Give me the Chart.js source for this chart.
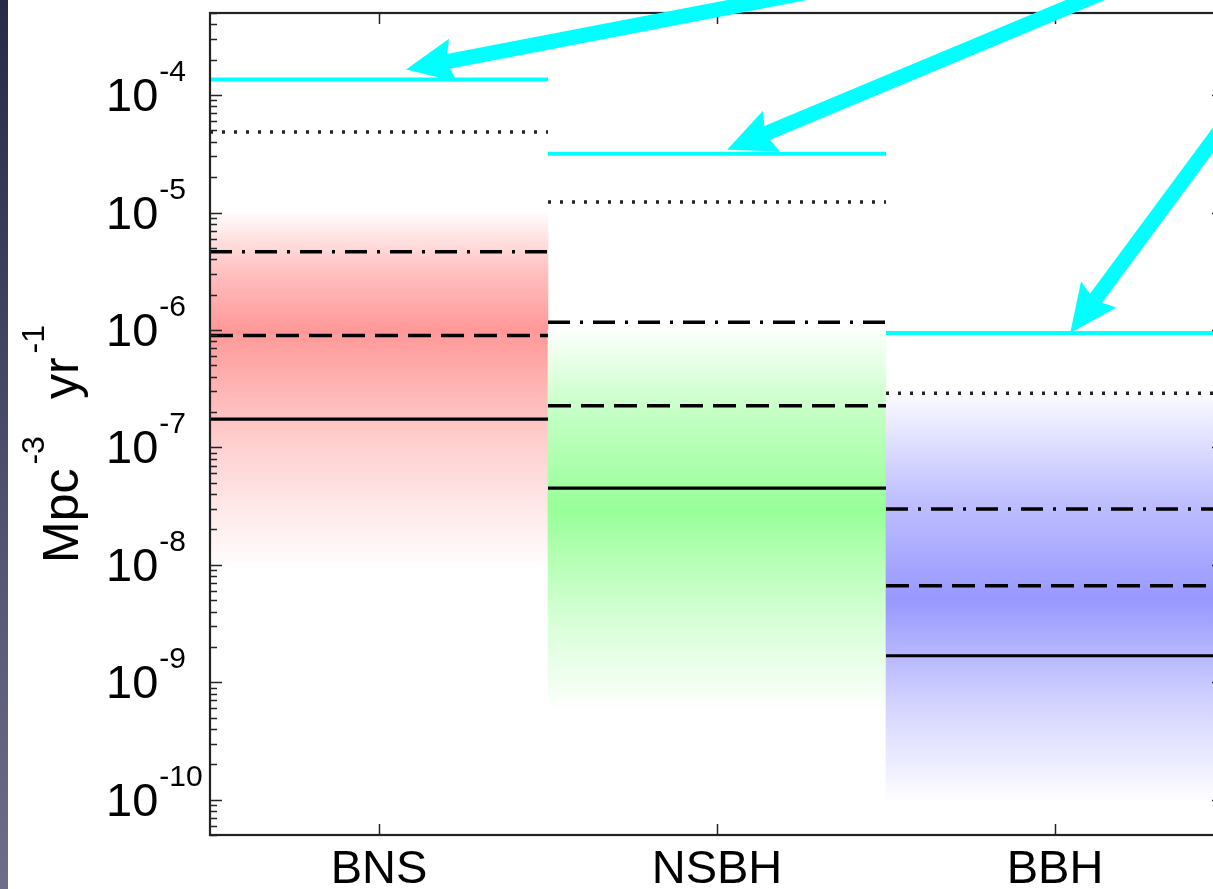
<!DOCTYPE html>
<html>
<head>
<meta charset="utf-8">
<script src="https://cdn.jsdelivr.net/npm/chart.js@4.4.0/dist/chart.umd.min.js"></script>
<style>
  html, body { margin: 0; padding: 0; background: #fff; overflow: hidden; }
  canvas { display: block; }
</style>
</head>
<body>
<canvas id="rates" width="1230" height="889"></canvas>
<script>
// source classes along the x axis
const categories = ['BNS', 'NSBH', 'BBH'];

// shaded rate bands, Mpc^-3 yr^-1 (low edge / strongest colour / high edge)
const bandLow = [1e-8, 6e-10, 1e-10];
const bandPeak = [1e-6, 3e-8, 5e-9];
const bandHigh = [1e-5, 1e-6, 3e-7];

// horizontal levels drawn across each class
const cyanRates = [1.36e-4, 3.17e-5, 9.4e-7];
const dottedRates = [4.85e-5, 1.23e-5, 2.89e-7];
const dashDotRates = [4.64e-6, 1.16e-6, 2.99e-8];
const dashedRates = [8.97e-7, 2.26e-7, 6.64e-9];
const solidRates = [1.74e-7, 4.5e-8, 1.68e-9];

// labelled decades on the y axis
const decadeExps = [-10, -9, -8, -7, -6, -5, -4];

const FONT = '"Liberation Sans", Arial, Helvetica, sans-serif';
const bandColors = [[255, 152, 152], [152, 255, 152], [152, 152, 255]];

// one flat segment per class, with gaps in between
function stepLine(values) {
  const pts = [];
  values.forEach((v, i) => {
    pts.push({x: i + 0.5, y: v}, {x: i + 1.5, y: v});
    if (i < values.length - 1) pts.push({x: i + 1.5, y: null});
  });
  return pts;
}

function levelSet(values, color, width, dash, order) {
  return {
    type: 'line',
    data: stepLine(values),
    borderColor: color,
    borderWidth: width,
    borderDash: dash,
    borderCapStyle: 'butt',
    pointRadius: 0,
    spanGaps: false,
    order: order
  };
}

function bandFill(c) {
  const chart = c.chart;
  if (!chart.chartArea || c.dataIndex === undefined) return 'rgba(0,0,0,0)';
  const i = c.dataIndex;
  const ys = chart.scales.y;
  const top = ys.getPixelForValue(bandHigh[i]);
  const bot = ys.getPixelForValue(bandLow[i]);
  const peak = ys.getPixelForValue(bandPeak[i]);
  const [r, g, b] = bandColors[i];
  const mix = (t) => 'rgb(' + Math.round(255 - (255 - r) * t) + ',' + Math.round(255 - (255 - g) * t) + ',' + Math.round(255 - (255 - b) * t) + ')';
  const grad = chart.ctx.createLinearGradient(0, top, 0, bot);
  const p = (peak - top) / (bot - top);
  grad.addColorStop(0, mix(0.03));
  grad.addColorStop(p * 0.5, mix(0.6));
  grad.addColorStop(p, mix(1));
  grad.addColorStop(p + (1 - p) * 0.5, mix(0.45));
  grad.addColorStop(1, mix(0.02));
  return grad;
}

// dark strip on the left edge of the slide
const slideEdge = {
  id: 'slideEdge',
  beforeDraw(chart) {
    const ctx = chart.ctx;
    const g = ctx.createLinearGradient(0, 0, 0, chart.height);
    g.addColorStop(0, '#262b48');
    g.addColorStop(1, '#6e6e8a');
    ctx.save();
    ctx.fillStyle = g;
    ctx.fillRect(0, 0, 8, chart.height);
    ctx.restore();
  }
};

// box, inward ticks, tick labels and axis title
const frame = {
  id: 'frame',
  afterDatasetsDraw(chart) {
    const {ctx, chartArea: a, scales: {x, y}} = chart;
    ctx.save();
    ctx.strokeStyle = '#222';
    ctx.lineWidth = 1.5;
    const seg = (x1, y1, x2, y2) => { ctx.beginPath(); ctx.moveTo(x1, y1); ctx.lineTo(x2, y2); ctx.stroke(); };

    for (let e = -11; e <= -3; e++) {
      for (let m = 1; m <= 9; m++) {
        const v = m * Math.pow(10, e);
        if (v < y.min * 0.999 || v > y.max * 1.001) continue;
        const py = Math.round(y.getPixelForValue(v)) + 0.5;
        const len = m === 1 ? 12 : 7;
        seg(a.left, py, a.left + len, py);
        seg(a.right, py, a.right - len, py);
      }
    }
    categories.forEach((c, i) => {
      const px = Math.round(x.getPixelForValue(i + 1)) + 0.5;
      seg(px, a.bottom, px, a.bottom - 11);
      seg(px, a.top, px, a.top + 11);
    });
    ctx.lineWidth = 2.2;
    ctx.strokeRect(a.left, a.top, a.right - a.left, a.bottom - a.top);

    ctx.fillStyle = '#000';
    ctx.textBaseline = 'alphabetic';

    // y tick labels: 10 with raised exponent
    decadeExps.forEach(e => {
      const py = y.getPixelForValue(Math.pow(10, e));
      ctx.font = '47px ' + FONT;
      ctx.textAlign = 'left';
      const bx = a.left - 104;
      ctx.fillText('10', bx, py + 16);
      const w = ctx.measureText('10').width;
      ctx.font = '30px ' + FONT;
      ctx.fillText(String(e), bx + w + 1, py - 14);
    });

    // x category labels
    ctx.font = '47px ' + FONT;
    ctx.textAlign = 'center';
    categories.forEach((c, i) => {
      ctx.fillText(c, x.getPixelForValue(i + 1), a.bottom + 48);
    });

    // y axis title, rotated
    ctx.translate(78, 563);
    ctx.rotate(-Math.PI / 2);
    ctx.textAlign = 'left';
    let pos = 0;
    const part = (txt, size, rise, gapAfter) => {
      ctx.font = size + 'px ' + FONT;
      ctx.fillText(txt, pos, -rise);
      pos += ctx.measureText(txt).width + gapAfter;
    };
    part('Mpc', 50, 0, 4);
    part('-3', 32, 34, 37);
    part('yr', 50, 0, 4);
    part('-1', 32, 34, 0);
    ctx.restore();
  }
};

// cyan call-out arrows pointing at the cyan levels
const arrowSpecs = [
  {cat: 0, frac: 0.08, lift: 10, dir: [354, -68]},
  {cat: 1, frac: 0.03, lift: 4, dir: [359, -150]},
  {cat: 2, frac: 0.045, lift: 0, dir: [142, -192]}
];

const callouts = {
  id: 'callouts',
  afterDraw(chart) {
    const {ctx, scales: {x, y}} = chart;
    ctx.save();
    ctx.fillStyle = '#00ffff';
    ctx.strokeStyle = '#00ffff';
    arrowSpecs.forEach(s => {
      const tx = x.getPixelForValue(s.cat + 1 + s.frac);
      const ty = y.getPixelForValue(cyanRates[s.cat]) - s.lift;
      const len = Math.hypot(s.dir[0], s.dir[1]);
      const ux = s.dir[0] / len, uy = s.dir[1] / len;
      const nx = -uy, ny = ux;
      const headLen = 48, headHalf = 22, notch = 41;
      ctx.lineWidth = 15;
      ctx.lineCap = 'butt';
      ctx.beginPath();
      ctx.moveTo(tx + ux * (notch - 2), ty + uy * (notch - 2));
      ctx.lineTo(tx + ux * 1200, ty + uy * 1200);
      ctx.stroke();
      ctx.beginPath();
      ctx.moveTo(tx, ty);
      ctx.lineTo(tx + ux * headLen + nx * headHalf, ty + uy * headLen + ny * headHalf);
      ctx.lineTo(tx + ux * notch, ty + uy * notch);
      ctx.lineTo(tx + ux * headLen - nx * headHalf, ty + uy * headLen - ny * headHalf);
      ctx.closePath();
      ctx.fill();
    });
    ctx.restore();
  }
};

new Chart(document.getElementById('rates'), {
  type: 'line',
  data: {
    datasets: [
      levelSet(cyanRates, '#00ffff', 4, [], 0),
      levelSet(dottedRates, '#222', 3.5, [3, 9], 1),
      levelSet(dashDotRates, '#000', 3.5, [22, 10, 3, 10], 1),
      levelSet(dashedRates, '#000', 3.5, [23, 10], 1),
      levelSet(solidRates, '#000', 3.2, [], 1),
      {
        type: 'bar',
        data: categories.map((c, i) => ({x: i + 1, y: [bandLow[i], bandHigh[i]]})),
        backgroundColor: bandFill,
        borderWidth: 0,
        barThickness: 'flex',
        barPercentage: 1,
        categoryPercentage: 1,
        order: 10
      }
    ]
  },
  options: {
    responsive: false,
    animation: false,
    events: [],
    layout: {autoPadding: false, padding: {top: 13, right: 6, left: 0, bottom: 0}},
    plugins: {legend: {display: false}, tooltip: {enabled: false}},
    scales: {
      x: {
        type: 'linear', min: 0.5, max: 3.5, offset: false,
        grid: {display: false, offset: false}, border: {display: false},
        ticks: {display: false, stepSize: 1},
        afterFit: (s) => { s.height = 54; s.paddingLeft = 0; s.paddingRight = 0; }
      },
      y: {
        type: 'logarithmic', min: 5e-11, max: 5e-4,
        grid: {display: false}, border: {display: false}, ticks: {display: false},
        afterFit: (s) => { s.width = 210; s.paddingTop = 0; s.paddingBottom = 0; }
      }
    }
  },
  plugins: [slideEdge, frame, callouts]
});
</script>
</body>
</html>
